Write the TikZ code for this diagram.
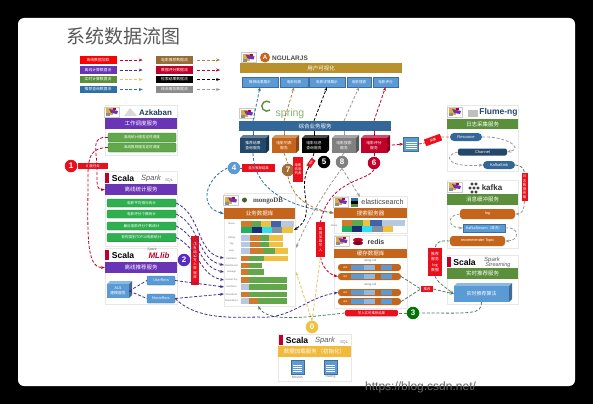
\documentclass[tikz,border=0pt]{standalone}
\usepackage{fontspec}
\setmainfont{Liberation Sans}
\newfontfamily\cjk{Noto Sans CJK SC}
\newfontfamily\serifl{Liberation Serif}
\usetikzlibrary{arrows.meta,calc}
\definecolor{barpurple}{HTML}{6A35B5}
\definecolor{barorange}{HTML}{C5651C}
\definecolor{bargreen}{HTML}{5B8F3C}
\definecolor{bargold}{HTML}{B8902C}
\definecolor{barblue}{HTML}{336699}
\definecolor{boxblue}{HTML}{5B9BD5}
\definecolor{boxgreen}{HTML}{2FB050}
\definecolor{cubenavy}{HTML}{23486B}
\definecolor{cubegray}{HTML}{808080}
\definecolor{tagred}{HTML}{E8101C}
\definecolor{flowred}{HTML}{C00028}
\definecolor{flowpurple}{HTML}{3F2F8F}
\definecolor{flowgold}{HTML}{DCC860}
\definecolor{flowblue}{HTML}{2F6FA8}
\definecolor{flowbrown}{HTML}{B08040}
\definecolor{flowgray}{HTML}{9A9A9A}
\definecolor{flowgreen}{HTML}{4F7F60}
\definecolor{sego}{HTML}{D07A30}
\definecolor{segg}{HTML}{62A84A}
\definecolor{segy}{HTML}{F0C040}
\definecolor{segb}{HTML}{3F64A8}
\definecolor{segl}{HTML}{B8C8E0}
\definecolor{segn}{HTML}{14307A}
\definecolor{segc}{HTML}{30E0E8}
\definecolor{segs}{HTML}{8090A8}
\definecolor{segm}{HTML}{20B060}
\tikzset{
  panelbox/.style={draw=black!9, line width=0.3pt, fill=white},
  barbox/.style={fill=#1, text=white, font=\cjk\fontsize{5.5}{6}\selectfont, inner sep=0pt},
  bluebox/.style={fill=boxblue, draw=boxblue!70!black, line width=0.2pt, text=white, font=\cjk\fontsize{3.6}{4.4}\selectfont, inner sep=0pt, align=center},
  greenbox/.style={fill=boxgreen, draw=boxgreen!70!black, line width=0.3pt, text=white, rounded corners=1pt, font=\cjk\fontsize{3.6}{4.4}\selectfont, inner sep=0pt},
  legendbox/.style={fill=#1, text=white, font=\cjk\fontsize{3.8}{4.4}\selectfont, inner sep=0pt, minimum height=7.5, minimum width=37},
  tagbox/.style={fill=tagred, text=white, font=\cjk\fontsize{3.4}{4.1}\selectfont, inner sep=0pt, align=center},
  numdot/.style={circle, fill=#1, text=white, inner sep=0pt, minimum size=12.5, font=\bfseries\fontsize{8}{8}\selectfont},
  pillbox/.style={fill=#1, rounded corners=3pt, text=white, font=\fontsize{3.8}{4.4}\selectfont, inner sep=0pt},
  rowlabel/.style={text=black!55, font=\fontsize{2.4}{2.8}\selectfont, inner sep=0pt},
  logotext/.style={inner sep=0pt, font=\bfseries\fontsize{#1}{#1}\selectfont},
  docicon/.style={fill=boxblue, draw=boxblue!70!black, line width=0.2pt, minimum width=#1, minimum height=14, inner sep=0pt,
    path picture={\foreach \t in {0.35,0.5,0.65,0.8}
      \draw[white, line width=0.4pt] ($(path picture bounding box.north west)!\t!(path picture bounding box.south west)+(2,0)$) -- +(#1-4,0);}},
  flow/.style={->, dashed, dash pattern=on 3pt off 1.8pt, line width=0.8pt, color=#1},
  mascot/.pic={
    \fill[white] (-7.5,-5) rectangle (7.5,5);
    \draw[black!20, line width=0.2pt] (-7.5,-5) rectangle (7.5,5);
    \fill[segy!70!brown] (-6,-4) rectangle (1,3);
    \fill[barpurple] (-3,-3) -- (6,-1) -- (5,2) -- (-1,1) -- cycle;
    \fill[flowred] (1,-4) rectangle (4,-2);
    \fill[black!45] (-6,1) rectangle (-2,4);
  },
  scalalogo/.pic={
    \fill[white] (-16,-5) rectangle (16,5);
    \fill[flowred] (-16,-5) rectangle (-12,5);
    \node[logotext=8.6] (scalaword) at (2,0) {Scala};
  },
}
\newcommand{\cubenode}[7]{%
  % nombre, x, y, ancho, alto, color, texto
  \fill[#6!70!white] (#2-#4/2,#3-#5/2+3) -- ++(3,-3) -- ++(#4-3,0) -- ++(-3,3) -- cycle;
  \fill[#6!70!black] (#2+#4/2-3,#3-#5/2+3) -- ++(3,-3) -- ++(0,#5-3) -- ++(-3,3) -- cycle;
  \node[fill=#6, text=white, font=\cjk\fontsize{3.8}{4.8}\selectfont, align=center, inner sep=0pt,
    minimum width=#4-3, minimum height=#5-3] (#1) at (#2-1.5,#3+1.5) {#7};
}
\begin{document}
\begin{tikzpicture}[x=1pt, y=-1pt, >={Stealth[length=4pt]}]
  \useasboundingbox (0,0) rectangle (593,404);
  % fondo
  \fill[black] (0,0) rectangle (593,404);
  \fill[white, rounded corners=6pt] (18,18) rectangle (575,386);
  \node[anchor=west, text=black!60, inner sep=0pt, font=\fontsize{12}{12}\selectfont] (watermark) at (365,387) {https://blog.csdn.net/};
  \node[text=black!65, inner sep=0pt, font=\cjk\fontsize{19}{20}\selectfont] (title) at (123,36) {系统数据流图};

  % leyenda
  \node[legendbox=red] (leg1) at (98,60) {离线数据加载};
  \node[legendbox=barpurple] (leg2) at (98,70) {离线计算数据流};
  \node[legendbox=bargreen] (leg3) at (98,79.5) {实时计算数据流};
  \node[legendbox=flowblue] (leg4) at (98,89.5) {推荐查询数据流};
  \node[legendbox=flowbrown!85!black] (leg5) at (174.5,60) {电影推荐数据流};
  \node[legendbox=flowred] (leg6) at (174.5,70) {数据评分数据流};
  \node[legendbox=black] (leg7) at (174.5,79.5) {检索结果数据流};
  \node[legendbox=black!45] (leg8) at (174.5,89.5) {综合服务数据流};
  \foreach \i/\c in {1/flowred,2/flowpurple,3/flowgold,4/flowblue}
    \draw[flow=\c] ($(leg\i.east)+(3,0)$) -- +(23,0);
  \foreach \i/\c in {5/flowbrown,6/flowred,7/black,8/flowgray}
    \draw[flow=\c] ($(leg\i.east)+(4,0)$) -- +(23,0);

  % paneles
  \draw[panelbox] (105,105) rectangle (177,155);
  \draw[panelbox] (105,171) rectangle (177,246);
  \draw[panelbox] (105,248) rectangle (177,304);
  \draw[panelbox] (224,193) rectangle (295,306);
  \draw[panelbox] (334,196) rectangle (407,233);
  \draw[panelbox] (334,235) rectangle (407,308);
  \draw[panelbox] (447,105) rectangle (518,171);
  \draw[panelbox] (447,180) rectangle (518,248);
  \draw[panelbox] (447,255) rectangle (518,304);
  \draw[panelbox] (278,334) rectangle (351,381);

  % vista web
  \pic at (248.5,57.5) {mascot};
  \node[circle, fill=barorange, text=white, inner sep=0pt, minimum size=10, logotext=6] (ngshield) at (265,57.5) {A};
  \node[logotext=6.5, text=black!70] (ngword) at (290,58) {NGULARJS};
  \node[barbox=bargold, minimum width=162, minimum height=10] (webbar) at (321,68) {用户可视化};
  \node[bluebox, minimum width=36, minimum height=10] (web1) at (260,82) {推荐结果展示};
  \node[bluebox, minimum width=28, minimum height=10] (web2) at (294,82) {电影检索};
  \node[bluebox, minimum width=36, minimum height=10] (web3) at (327,82) {电影详情展示};
  \node[bluebox, minimum width=24, minimum height=10] (web4) at (359,82) {电影搜索};
  \node[bluebox, minimum width=25, minimum height=10] (web5) at (385.5,82) {电影评分};

  % servicio web
  \pic at (247,113.5) {mascot};
  \draw[bargreen, line width=1.4pt] (270,110) arc (50:310:5);
  \node[text=bargreen!70!white, inner sep=0pt, font=\fontsize{10.5}{11}\selectfont] (springword) at (290,113.5) {spring};
  \node[barbox=barblue, minimum width=152, minimum height=10] (springbar) at (315,126) {综合业务服务};
  \cubenode{cube1}{254.5}{144}{29}{18}{cubenavy}{推荐结果\\查询服务}
  \cubenode{cube2}{285.5}{144}{27}{18}{barorange}{电影列表\\服务}
  \cubenode{cube3}{315.5}{144}{27}{18}{black}{电影信息\\查询服务}
  \cubenode{cube4}{345.5}{144}{27}{18}{cubegray}{电影搜索\\服务}
  \cubenode{cube5}{375.5}{144}{29}{18}{flowred}{电影评分\\服务}
  \foreach \i/\c in {1/flowblue,2/flowbrown,3/black,4/flowgray,5/flowred}{
    \draw[\c, line width=0.6pt] (cube\i |- springbar.south) -- ($(cube\i.north)+(0,-2)$);
    \draw[flow=\c] (cube\i |- springbar.north) -- (web\i.south);
  }

  % numeros y etiquetas
  \node[numdot=boxblue] (dot4) at (234,168) {4};
  \node[tagbox, minimum width=33, minimum height=8] (tagfour) at (258.5,168) {显示推荐结果};
  \node[numdot=brown!85!black] (dot7) at (288,170) {7};
  \node[tagbox, minimum width=10, minimum height=25] (tagseven) at (298,169.5) {电影\\信息\\列表};
  \node[numdot=black] (dot5) at (324,162) {5};
  \node[tagbox, rotate=55, minimum width=9, minimum height=5, font=\cjk\fontsize{2.6}{3}\selectfont] (tagfive) at (311,163) {电影};
  \node[numdot=cubegray] (dot8) at (342,162) {8};
  \node[numdot=flowred] (dot6) at (374,163) {6};

  % azkaban
  \pic at (112,112) {mascot};
  \fill[black!15] (124,116) -- (130,108) -- (137,116) -- cycle;
  \node[logotext=8, text=barblue!60!black] (azkword) at (155.5,112.5) {Azkaban};
  \node[barbox=barpurple, minimum width=72, minimum height=11] (azkbar) at (141,123.5) {工作调度服务};
  \node[greenbox, fill=segg, minimum width=68, minimum height=9] (azk1) at (142,137.5) {离线统计服务定时调度};
  \node[greenbox, fill=segg, minimum width=68, minimum height=9] (azk2) at (142,147.5) {离线推荐服务定时调度};

  % spark sql
  \pic at (121,178) {scalalogo};
  \node[inner sep=0pt, text=black!65, font=\itshape\fontsize{7.5}{8}\selectfont] (sparkword) at (151,179) {Spark};
  \node[inner sep=0pt, text=black!50, font=\fontsize{4}{4}\selectfont] (sparksql) at (169,180) {SQL};
  \node[barbox=barpurple, minimum width=72, minimum height=11] (sparkbar) at (141,189.5) {离线统计服务};
  \node[greenbox, minimum width=69, minimum height=8] (stat1) at (141.5,203) {电影平均得分统计};
  \node[greenbox, minimum width=69, minimum height=8] (stat2) at (141.5,214) {电影评分个数统计};
  \node[greenbox, minimum width=69, minimum height=8] (stat3) at (141.5,226) {最近电影评分个数统计};
  \node[greenbox, minimum width=69, minimum height=8.5] (stat4) at (141.5,237.5) {影视类别TOP10电影统计};

  % mllib
  \pic at (121,255) {scalalogo};
  \node[inner sep=0pt, text=flowred, font=\bfseries\itshape\fontsize{8}{8}\selectfont] (mlword) at (159,256) {MLlib};
  \node[inner sep=0pt, text=black!60, font=\itshape\fontsize{3.5}{4}\selectfont] (mlspark) at (152,249.5) {Spark};
  \node[barbox=barpurple, minimum width=72, minimum height=11] (mlbar) at (141,267.5) {离线推荐服务};
  \cubenode{alscube}{119.5}{289.5}{25}{17}{boxblue}{ALS\\建模服务}
  \node[bluebox, rounded corners=1pt, minimum width=28, minimum height=9] (rec1) at (161,280.5) {UserRecs};
  \node[bluebox, rounded corners=1pt, minimum width=28, minimum height=9] (rec2) at (161,298.5) {MovieRecs};
  \node[numdot=barpurple!85!blue] (dot2) at (184,260) {2};
  \node[tagbox, minimum width=8, minimum height=49] (tagtwo) at (195,260.5) {推\\荐\\结\\果\\写\\入\\数\\据\\库};
  \node[numdot=tagred] (dot1) at (71,166) {1};
  \node[tagbox, minimum width=30, minimum height=6] (tagone) at (93,166) {调度任务};

  % mongodb
  \pic at (231,200.5) {mascot};
  \fill[bargreen!70!black] (244.5,200) circle (2.5);
  \node[inner sep=0pt, text=black!70, font=\serifl\bfseries\fontsize{7}{7}\selectfont] (mongoword) at (268,201) {mongoDB};
  \node[barbox=barorange, minimum width=71, minimum height=11] (mongobar) at (259.5,213.5) {业务数据库};
  \foreach \ya/\yb/\segs in {
    221/226.5/{241/252/sego,252/261/segg,261/271/segy,271/281/segb,281/294/segl},
    227/233/{241/252/segm,252/262/segn,262/272/segc,272/282/segs,282/293/segy},
    235/241/{241/250/segl,250/260/sego,260/269/segg,269/283/segy},
    241.5/247/{241/250/segl,250/260/sego,260/269/segg,269/283/segy},
    248/254/{241/250/segl,250/263/sego,263/275/segg,275/288/segy},
    256/261/{241/249/sego,249/264/segg,264/288/segy},
    263/268/{241/249/sego,249/262/segg},
    269/275/{241/248/sego,248/264/segg},
    277/283/{241/249/sego,249/287/segg},
    284/290/{241/249/segl,249/287/segg},
    292/297/{241/249/sego,249/287/segg},
    298/304/{241/249/segl,249/258/sego,258/287/segg}}{
    \foreach \xa/\xb/\c in \segs
      \fill[\c] (\xa,\ya) rectangle (\xb,\yb);
  }
  \foreach \y/\t [count=\k] in {224/Movie,238/Rating,244/Tag,251/User,258.5/RateMore,265.5/RateRecent,272/Average,280/GenresTop,287/UserRecs,294.5/MovieRecs,301/StreamRecs}
    \node[rowlabel] (mongolab\k) at (231.5,\y) {\t};
  \foreach \i/\y in {6/258,7/265,8/272,9/280,10/287,11/294,12/301}
    \coordinate (mongoin\i) at (224,\y);
  \coordinate (mongocoll) at (294,230);
  \coordinate (mongogray) at (296,248);
  \coordinate (mongogold) at (296,272);
  \coordinate (mongobottom) at (258,306);
  \coordinate (bottommerge) at (258,317);

  % elasticsearch
  \pic at (341,202) {mascot};
  \fill[flowblue] (351,198) rectangle (358,201);
  \fill[black] (351,201) rectangle (358,204);
  \fill[bargreen] (351,204) rectangle (358,207);
  \node[inner sep=0pt, text=black!75, font=\fontsize{7.2}{7.2}\selectfont] (esword) at (382.5,202) {elasticsearch};
  \coordinate (esin) at (360,197);
  \node[barbox=barorange, minimum width=73, minimum height=10] (esbar) at (370.5,213) {搜索服务器};
  \foreach \ya/\yb/\segs in {
    220/226/{342/352/sego,352/363/segg,363/370/segy,370/382/segb,382/405/segl},
    226/232/{342/352/segm,352/362/segn,362/372/segc,372/383/segs,383/393/segy}}{
    \foreach \xa/\xb/\c in \segs
      \fill[\c] (\xa,\ya) rectangle (\xb,\yb);
  }
  \node[rowlabel] (eslabel) at (334,226) {Movie};

  % redis
  \pic at (341.5,241) {mascot};
  \fill[flowred] (358,240) ellipse (5 and 2.2);
  \fill[flowred!70!black] (358,243) ellipse (5 and 2.2);
  \node[inner sep=0pt, text=black!75, font=\bfseries\fontsize{7}{7}\selectfont] (redisword) at (376,241.5) {redis};
  \node[barbox=barorange, minimum width=73, minimum height=9.5] (redisbar) at (370.5,253.5) {缓存数据库};
  \node[rowlabel, font=\fontsize{3}{3}\selectfont] (redislab1) at (370,260.5) {rating:uid};
  \node[rowlabel, font=\fontsize{3}{3}\selectfont] (redislab2) at (370,285) {rating:uid};
  \foreach \i/\y in {1/267.5,2/276.5,3/292.5,4/301.5}{
    \node[pillbox=barorange, minimum width=63, minimum height=7] (redisrow\i) at (369.5,\y) {};
    \fill[boxblue] (351,\y-2.6) rectangle (364,\y+2.6);
    \fill[boxblue!70!white] (364,\y-2.6) rectangle (375,\y+2.6);
    \fill[boxblue] (381,\y-2.6) rectangle (392,\y+2.6);
    \node[inner sep=0pt, text=white, font=\fontsize{2.8}{3}\selectfont] (redisuid\i) at (345,\y) {uid};
  }

  % carga de datos
  \pic at (295,340) {scalalogo};
  \node[inner sep=0pt, text=black!65, font=\itshape\fontsize{7.5}{8}\selectfont] (loadspark) at (325,341) {Spark};
  \node[inner sep=0pt, text=black!50, font=\fontsize{4}{4}\selectfont] (loadsql) at (344,342) {SQL};
  \node[barbox=segy!90!orange, minimum width=73, minimum height=11] (loadbar) at (314.5,351.5) {数据加载服务\,（初始化）};
  \node[docicon=13] (movfile) at (297.5,367) {};
  \node[docicon=13] (ratfile) at (330.5,367) {};
  \node[rowlabel, font=\fontsize{3.4}{4}\selectfont] (movname) at (297.5,377) {Movies};
  \node[rowlabel, font=\fontsize{3.4}{4}\selectfont] (ratname) at (330.5,377) {Rating};
  \node[numdot=segy] (dot0) at (312,327) {0};
  \node[tagbox, minimum width=9, minimum height=35] (tagload) at (320.5,239.5) {数\\据\\加\\载\\写\\入};

  % flume
  \pic at (455,112) {mascot};
  \fill[black!25] (468,110) rectangle (478,117);
  \node[logotext=8.5, text=barblue!70!black] (flumeword) at (498.5,112.5) {Flume-ng};
  \node[barbox=bargreen, minimum width=71, minimum height=10] (flumebar) at (482.5,124) {日志采集服务};
  \node[barbox=barblue, rounded corners=4pt, minimum width=32, minimum height=8, font=\fontsize{4}{4}\selectfont] (source) at (466,137) {Resource};
  \node[barbox=cubenavy, rounded corners=2pt, minimum width=49, minimum height=7, font=\fontsize{4}{4}\selectfont] (channel) at (482.5,152) {Channel};
  \node[barbox=barblue, rounded corners=4pt, minimum width=32, minimum height=8, font=\fontsize{4}{4}\selectfont] (sink) at (499,165) {KafkaSink};
  \node[docicon=15] (logfile) at (411,144) {};
  \node[tagbox, rotate=20, minimum width=17, minimum height=7] (taglog) at (433,140) {采集};

  % kafka
  \pic at (455,187) {mascot};
  \foreach \p in {(472,184),(476,184),(470,188),(474,188),(478,188),(472,192),(476,192)}
    \draw[black, line width=0.5pt] \p circle (1.2);
  \node[logotext=8, text=black!80] (kafkaword) at (492,188) {kafka};
  \node[barbox=bargreen, minimum width=71, minimum height=11] (kafkabar) at (482.5,199.5) {消息缓冲服务};
  \node[pillbox=barorange, minimum width=55, minimum height=10] (topiclog) at (487.5,214) {log};
  \node[bluebox, minimum width=42, minimum height=8] (kstream) at (484,228) {KafkaStream（清洗）};
  \node[pillbox=barorange, minimum width=55, minimum height=10] (topicrec) at (477.5,241) {recommender Topic};
  \node[tagbox, minimum width=6, minimum height=28] (tagkafka) at (524.5,187) {日\\志\\数\\据\\传\\输};

  % streaming
  \pic at (462.5,262) {scalalogo};
  \node[inner sep=0pt, text=black!65, font=\itshape\fontsize{6}{6}\selectfont] (streamspark) at (492,259.5) {Spark};
  \node[inner sep=0pt, text=black!65, font=\itshape\fontsize{5.5}{6}\selectfont] (streamword) at (498,265) {Streaming};
  \node[barbox=bargreen, minimum width=71, minimum height=11] (streambar) at (482.5,273.5) {实时推荐服务};
  \cubenode{streamcube}{483}{292.5}{58}{19}{boxblue}{\fontsize{5}{6}\selectfont 实时推荐算法}
  \node[tagbox, minimum width=14, minimum height=28, font=\cjk\fontsize{3.8}{5.2}\selectfont] (tagstream) at (435,262) {推荐\\服务\\log\\数据};
  \node[tagbox, minimum width=12, minimum height=6.5] (tagrec) at (427,289) {推荐};
  \node[numdot=green!45!black] (dot3) at (413,313) {3};
  \node[tagbox, rounded corners=2pt, minimum width=53, minimum height=6.5] (tagrt) at (371.5,313) {写入实时推荐结果};

  % flujos
  \draw[flow=flowred] (cube5.east) -- (logfile.west);
  \draw[flow=flowred, line width=0.7pt, -] (logfile.east) -- (taglog.west);
  \draw[flow=flowbrown, -] (taglog.east) -- (source.west);
  \draw[flow=flowgray] (source.east) .. controls (505,136) and (525,148) .. (channel.east);
  \draw[flow=flowgray] (channel.west) .. controls (445,154) and (443,168) .. (sink.west);
  \draw[flow=flowgreen, -] (sink.east) .. controls (520,165) and (524,168) .. (tagkafka.north);
  \draw[flow=flowgray] (tagkafka.south) .. controls (524,210) and (522,214) .. (topiclog.east);
  \draw[flow=flowgray] (topiclog.west) .. controls (446,215) and (448,228) .. (kstream.west);
  \draw[flow=flowgray] (kstream.east) .. controls (520,226) and (520,241) .. (topicrec.east);
  \draw[flow=flowgreen, -] (topicrec.west) .. controls (439,240) and (436,243) .. (tagstream.north);
  \draw[flow=flowgreen] (tagstream.south) .. controls (437,282) and (445,287) .. (streamcube.west);
  \draw[flow=flowgreen, -] (redisrow2.east) -- (tagrec.west);
  \draw[flow=flowgreen, -] (redisrow4.east) -- (tagrec.west);
  \draw[flow=flowgreen] (tagrec.east) -- (streamcube.west);
  \draw[flow=flowgreen, -] (streamcube.south) .. controls (482,315) and (470,313) .. (dot3.east);
  \draw[flow=flowgreen, -] (dot3.west) -- (tagrt.east);
  \draw[flow=flowgreen] (tagrt.west) .. controls (300,318) and (268,322) .. (mongobottom);
  % azkaban
  \draw[flow=flowred] (azk1.west) .. controls (90,136) and (97,150) .. (97,170) .. controls (97,182) and (96,190) .. (sparkbar.west);
  \draw[flow=flowred] (azk2.west) .. controls (92,148) and (88,155) .. (88,175) .. controls (88,230) and (85,268) .. (mlbar.west);
  % estadisticas
  \foreach \i/\j in {1/6,2/7,3/8,4/9}
    \draw[flow=flowpurple] (stat\i.east) to[out=-25,in=170] (mongoin\j);
  \draw[flow=flowpurple] (rec1.east) -- (mongoin10);
  \draw[flow=flowpurple] (rec2.east) -- (mongoin11);
  \draw[flow=flowpurple, -] (alscube.east) -- (rec1.west);
  \draw[flow=flowpurple, -] (alscube.east) -- (rec2.west);
  \draw[flow=flowpurple] (rec2.east) .. controls (195,318) and (225,318) .. (bottommerge) .. controls (290,320) and (305,298) .. (redisrow3.west);
  % servicios
  \draw[flow=flowblue, -] (dot4.east) -- (tagfour.west);
  \draw[flow=flowblue] (cube1.south) .. controls (254,190) and (288,206) .. (esbar.west);
  \draw[flow=flowblue] (dot4.west) .. controls (205,178) and (198,208) .. (mongobar.west);
  \draw[flow=flowbrown, -] (cube2.south) -- (dot7.north);
  \draw[flow=flowbrown] (dot7.south) .. controls (292,195) and (305,208) .. (esbar.west);
  \draw[flow=black, -] (cube3.south) -- (tagfive);
  \draw[flow=black] (tagfive) .. controls (296,190) and (318,215) .. (mongocoll);
  \draw[flow=flowgray, -] (cube4.south) -- (dot8.north);
  \draw[flow=flowgray] (dot8.south) .. controls (325,190) and (305,225) .. (mongogray);
  \draw[flow=flowgray] (dot8.south) -- (esin);
  \draw[flow=flowred, -] (cube5.south) -- (dot6.north);
  \draw[flow=flowred, -] (dot6.south) .. controls (368,182) and (330,178) .. (tagload.north);
  \draw[flow=flowred] (tagload.south) .. controls (322,266) and (328,274) .. (redisrow2.west);
  % carga
  \draw[flow=flowgold, -] (dot0.north) -- (tagload.south);
  \draw[flow=flowgold] (dot0.north) -- (mongogold);
\end{tikzpicture}
\end{document}
